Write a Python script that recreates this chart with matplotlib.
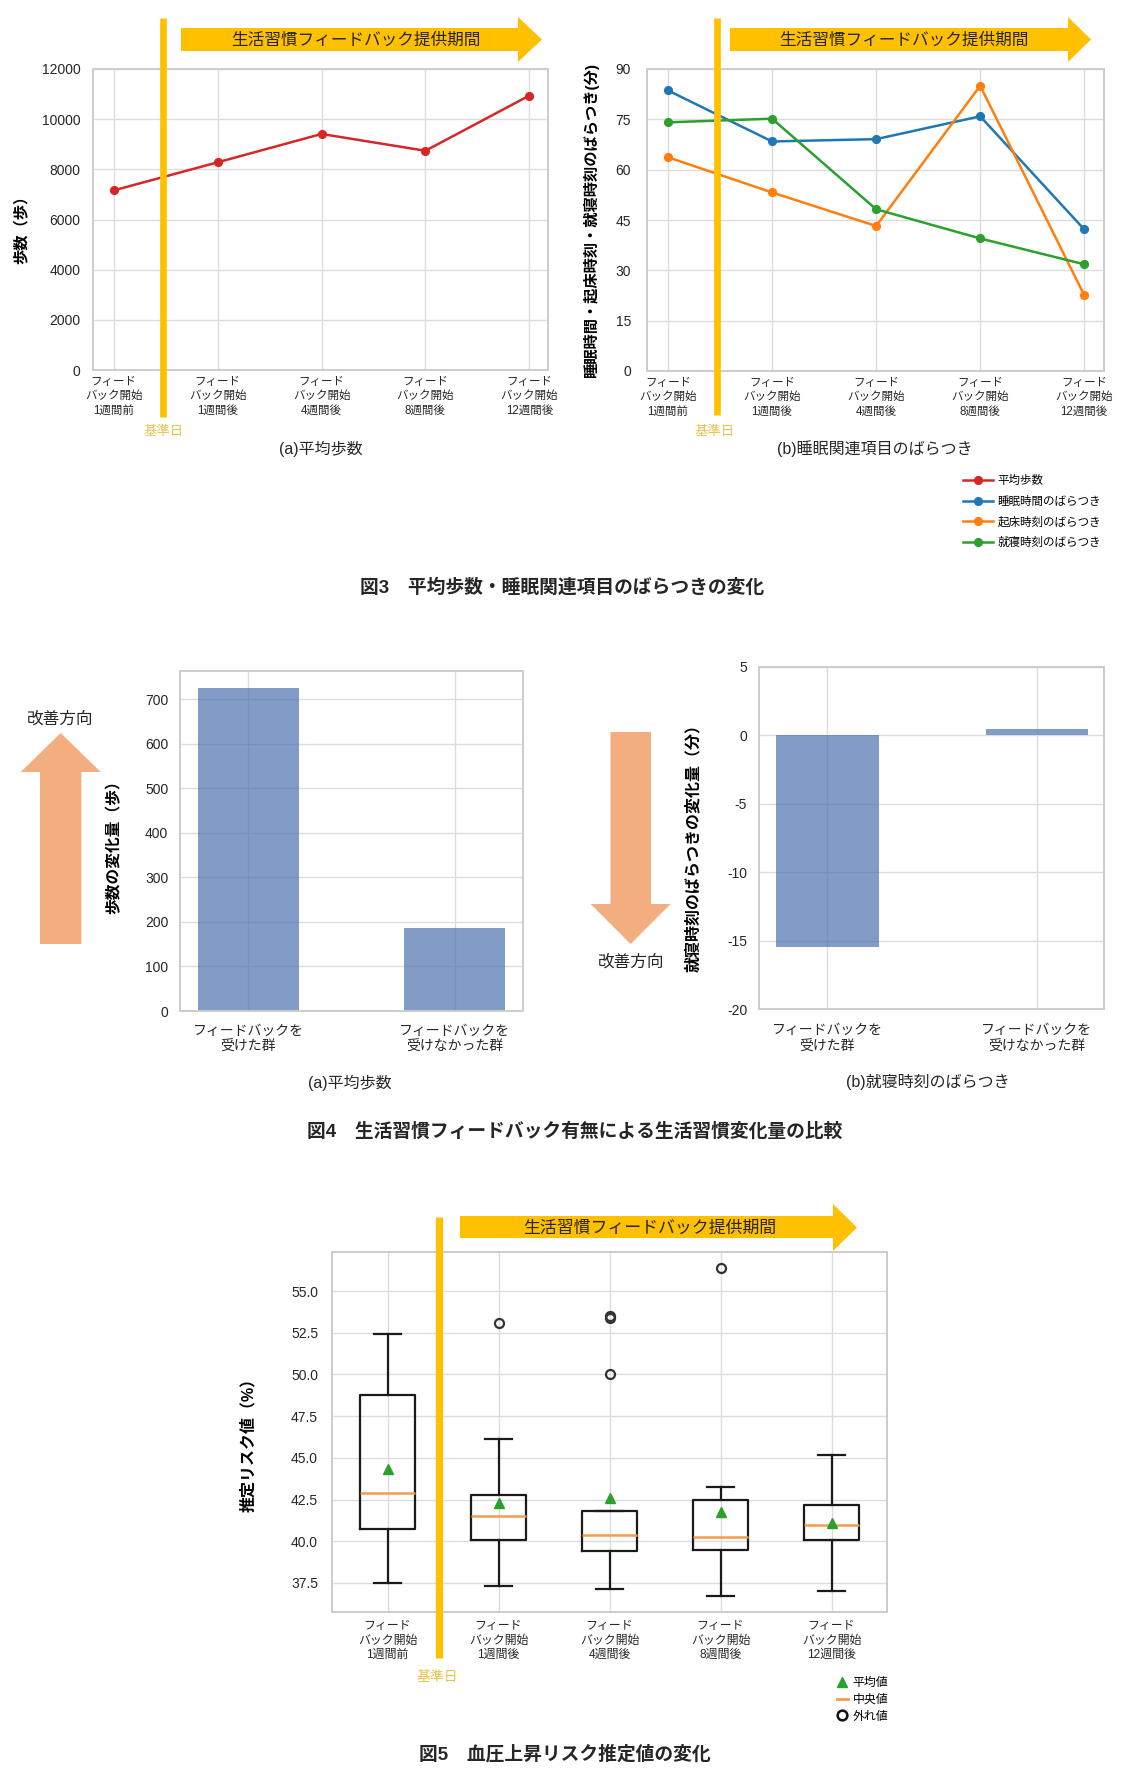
import matplotlib
matplotlib.use('Agg')
import matplotlib.pyplot as plt
import matplotlib.transforms as mtransforms
from matplotlib.patches import Polygon
from matplotlib.lines import Line2D
import numpy as np

plt.rcParams['font.family'] = ['Liberation Sans', 'Noto Sans CJK JP', 'DejaVu Sans']
plt.rcParams['axes.unicode_minus'] = False

# ---------------- data ----------------
timepoints = ['フィード\nバック開始\n1週間前', 'フィード\nバック開始\n1週間後',
              'フィード\nバック開始\n4週間後', 'フィード\nバック開始\n8週間後',
              'フィード\nバック開始\n12週間後']
avg_steps = [7160, 8280, 9410, 8740, 10940]
sleep_dur_var = [83.6, 68.4, 69.1, 75.9, 42.2]
wake_time_var = [63.7, 53.2, 43.2, 85.0, 22.6]
bed_time_var = [74.1, 75.2, 48.2, 39.5, 31.8]
series_labels = ['平均歩数', '睡眠時間のばらつき', '起床時刻のばらつき', '就寝時刻のばらつき']

groups = ['フィードバックを\n受けた群', 'フィードバックを\n受けなかった群']
step_change = [725, 186]
bedtime_var_change = [-15.5, 0.45]

risk_whislo = [37.50, 37.32, 37.12, 36.72, 37.01]
risk_q1 = [40.72, 40.10, 39.43, 39.50, 40.10]
risk_med = [42.87, 41.50, 40.39, 40.28, 40.99]
risk_q3 = [48.76, 42.79, 41.79, 42.50, 42.16]
risk_whishi = [52.42, 46.16, 41.79, 43.27, 45.16]
risk_mean = [44.32, 42.27, 42.59, 41.76, 41.10]
risk_fliers = [[], [53.11], [50.05, 53.38, 53.49], [56.38], []]

period_text = '生活習慣フィードバック提供期間'
base_text = '基準日'

# ---------------- figure ----------------
W, H, DPI = 1125, 1784, 100
fig = plt.figure(figsize=(W / DPI, H / DPI), dpi=DPI)
fig.patch.set_facecolor('white')
px = mtransforms.Affine2D().scale(1 / DPI, -1 / DPI).translate(0, H / DPI) + fig.dpi_scale_trans

GOLD = '#ffc000'
GOLD_TXT = '#e8c24e'
ORANGE_ARROW = '#f2ae7e'
TXT = '#262626'


def add_ax(l, t, r, b):
    return fig.add_axes([l / W, 1 - b / H, (r - l) / W, (b - t) / H])


def style(ax):
    ax.set_facecolor('white')
    for s in ax.spines.values():
        s.set_color('#cccccc')
        s.set_linewidth(1.4)
    ax.grid(True, color='#dcdcdc', linewidth=1.0)
    ax.set_axisbelow(True)
    ax.tick_params(length=0, colors=TXT, labelcolor=TXT)


def harrow(x0, xb, xt, yb0, yb1, yh0, yh1, color):
    yc = (yh0 + yh1) / 2
    pts = [(x0, yb0), (xb, yb0), (xb, yh0), (xt, yc), (xb, yh1), (xb, yb1), (x0, yb1)]
    fig.add_artist(Polygon(pts, closed=True, transform=px, facecolor=color, edgecolor='none'))


def varrow(xb0, xb1, xh0, xh1, ystart, ybase, ytip, color):
    xc = (xh0 + xh1) / 2
    pts = [(xb0, ystart), (xb0, ybase), (xh0, ybase), (xc, ytip), (xh1, ybase), (xb1, ybase), (xb1, ystart)]
    fig.add_artist(Polygon(pts, closed=True, transform=px, facecolor=color, edgecolor='none'))


def ftext(x, y, s, **kw):
    kw.setdefault('ha', 'center')
    kw.setdefault('va', 'center')
    kw.setdefault('color', TXT)
    fig.text(x, y, s, transform=px, **kw)


def vline(ax, xdata, ymin, ymax, lw):
    ax.plot([xdata, xdata], [ymin, ymax], color=GOLD, lw=lw, solid_capstyle='butt',
            transform=ax.get_xaxis_transform(), clip_on=False, zorder=6)


x5 = np.arange(len(timepoints))

# ---------------- Fig.3 (a) ----------------
ax1 = add_ax(93, 69, 548, 370)
style(ax1)
l0, = ax1.plot(x5, avg_steps, '-o', color='#d62728', lw=1.8, ms=5.6, label=series_labels[0])
ax1.set_xlim(-0.2, 4.18)
ax1.set_ylim(0, 12000)
ax1.set_yticks(np.arange(0, 12001, 2000))
ax1.set_xticks(x5)
ax1.set_xticklabels(timepoints, fontsize=8.3, linespacing=1.3)
ax1.tick_params(axis='y', labelsize=10, pad=9)
ax1.tick_params(axis='x', pad=4)
ax1.set_ylabel('歩数（歩）', fontsize=11, fontweight='bold', va='center')
ax1.yaxis.set_label_coords(-0.158, 0.48)
ax1.set_xlabel('(a)平均歩数', fontsize=11.5, va='center', color=TXT)
ax1.xaxis.set_label_coords(0.5, -0.262)
vline(ax1, 0.47, -0.156, 1.169, 4.8)
ftext(164, 432, base_text, fontsize=9.6, color=GOLD_TXT)
harrow(181, 518, 542, 28, 51, 17, 62, GOLD)
ftext(356, 40, period_text, fontsize=12)

# ---------------- Fig.3 (b) ----------------
ax2 = add_ax(646.5, 69, 1104, 371)
style(ax2)
l1, = ax2.plot(x5, sleep_dur_var, '-o', color='#1f77b4', lw=1.8, ms=5.6, label=series_labels[1])
l2, = ax2.plot(x5, wake_time_var, '-o', color='#ff7f0e', lw=1.8, ms=5.6, label=series_labels[2])
l3, = ax2.plot(x5, bed_time_var, '-o', color='#2ca02c', lw=1.8, ms=5.6, label=series_labels[3])
ax2.set_xlim(-0.207, 4.19)
ax2.set_ylim(0, 90)
ax2.set_yticks(np.arange(0, 91, 15))
ax2.set_xticks(x5)
ax2.set_xticklabels(timepoints, fontsize=8.3, linespacing=1.3)
ax2.tick_params(axis='y', labelsize=10, pad=11)
ax2.tick_params(axis='x', pad=4)
ax2.set_ylabel('睡眠時間・起床時刻・就寝時刻のばらつき(分)', fontsize=11, fontweight='bold', va='center')
ax2.yaxis.set_label_coords(-0.121, 0.497)
ax2.set_xlabel('(b)睡眠関連項目のばらつき', fontsize=11.5, va='center', color=TXT)
ax2.xaxis.set_label_coords(0.4995, -0.258)
vline(ax2, 0.47, -0.146, 1.169, 4.8)
ftext(715, 432, base_text, fontsize=9.6, color=GOLD_TXT)
harrow(730, 1068, 1091, 28, 51, 17, 62, GOLD)
ftext(904, 40, period_text, fontsize=12)

fig.legend(handles=[l0, l1, l2, l3], loc='upper left', bbox_to_anchor=(963 / W, 1 - 475 / H),
           frameon=False, fontsize=8.3, handlelength=2.6, handletextpad=0.4,
           labelspacing=0.75, borderpad=0, borderaxespad=0)

ftext(562, 588, '図3\u3000平均歩数・睡眠関連項目のばらつきの変化', fontsize=13.5, fontweight='bold')

# ---------------- Fig.4 (a) ----------------
xg = np.arange(len(groups))
ax3 = add_ax(180, 671, 523, 1011)
style(ax3)
ax3.bar(xg, step_change, width=0.49, color='#4c72b0', alpha=0.7)
ax3.set_xlim(-0.33, 1.33)
ax3.set_ylim(0, 763)
ax3.set_yticks(np.arange(0, 701, 100))
ax3.set_xticks(xg)
ax3.set_xticklabels(groups, fontsize=10, linespacing=1.25)
ax3.tick_params(axis='y', labelsize=10, pad=8.5)
ax3.tick_params(axis='x', pad=9)
ax3.set_ylabel('歩数の変化量（歩）', fontsize=11.3, fontweight='bold', va='center')
ax3.yaxis.set_label_coords(-0.192, 0.494)
ax3.set_xlabel('(a)平均歩数', fontsize=11.5, va='center', color=TXT)
ax3.xaxis.set_label_coords(0.496, -0.212)
varrow(40, 81.4, 20.7, 100.7, 944, 772, 733, ORANGE_ARROW)
ftext(60, 719, '改善方向', fontsize=12)

# ---------------- Fig.4 (b) ----------------
ax4 = add_ax(759, 667, 1104, 1009)
style(ax4)
ax4.bar(xg, bedtime_var_change, width=0.49, color='#4c72b0', alpha=0.7)
ax4.set_xlim(-0.327, 1.32)
ax4.set_ylim(-20, 5)
ax4.set_yticks(np.arange(-20, 6, 5))
ax4.set_xticks(xg)
ax4.set_xticklabels(groups, fontsize=10, linespacing=1.25)
ax4.tick_params(axis='y', labelsize=10, pad=8.5)
ax4.tick_params(axis='x', pad=10)
ax4.set_ylabel('就寝時刻のばらつきの変化量（分）', fontsize=11.5, fontweight='bold', va='center')
ax4.yaxis.set_label_coords(-0.191, 0.482)
ax4.set_xlabel('(b)就寝時刻のばらつき', fontsize=11.5, va='center', color=TXT)
ax4.xaxis.set_label_coords(0.489, -0.213)
varrow(610.5, 651, 590.6, 670.6, 732, 904, 944, ORANGE_ARROW)
ftext(631, 962, '改善方向', fontsize=12)

ftext(575, 1132, '図4\u3000生活習慣フィードバック有無による生活習慣変化量の比較', fontsize=13.5, fontweight='bold')

# ---------------- Fig.5 ----------------
ax5 = add_ax(332, 1252, 887, 1612)
style(ax5)
stats = []
for i, tp in enumerate(timepoints):
    stats.append(dict(whislo=risk_whislo[i], q1=risk_q1[i], med=risk_med[i], q3=risk_q3[i],
                      whishi=risk_whishi[i], mean=risk_mean[i], fliers=risk_fliers[i], label=tp))
pos = np.arange(1, len(stats) + 1)
ax5.bxp(stats, positions=pos, widths=0.5, showmeans=True,
        boxprops=dict(color='#1a1a1a', lw=1.6),
        whiskerprops=dict(color='#1a1a1a', lw=1.6),
        capprops=dict(color='#1a1a1a', lw=1.6),
        medianprops=dict(color='#f39c4e', lw=1.8),
        meanprops=dict(marker='^', markerfacecolor='#2ca02c', markeredgecolor='#2ca02c', markersize=7.5),
        flierprops=dict(marker='o', markerfacecolor='none', markeredgecolor='#333333',
                        markersize=6.5, markeredgewidth=1.6))
ax5.set_xlim(0.5, 5.5)
ax5.set_ylim(35.76, 57.34)
ax5.set_yticks(np.arange(37.5, 55.01, 2.5))
ax5.set_yticklabels(['%.1f' % v for v in np.arange(37.5, 55.01, 2.5)])
ax5.set_xticks(pos)
ax5.set_xticklabels(timepoints, fontsize=8.6, linespacing=1.25)
ax5.tick_params(axis='y', labelsize=10, pad=10)
ax5.tick_params(axis='x', pad=6)
ax5.set_ylabel('推定リスク値（%）', fontsize=11.5, fontweight='bold', va='center')
ax5.yaxis.set_label_coords(-0.151, 0.475)
vline(ax5, 1.46, -0.128, 1.097, 5.2)
ftext(437, 1677, base_text, fontsize=10, color=GOLD_TXT)
harrow(460, 833, 857, 1216, 1238, 1204, 1251, GOLD)
ftext(650, 1228, period_text, fontsize=12.2)

h_mean = Line2D([], [], marker='^', color='#2ca02c', ls='none', ms=7)
h_med = Line2D([], [], color='#f39c4e', lw=2)
h_fl = Line2D([], [], marker='o', mfc='none', mec='#111111', ls='none', ms=7, mew=1.8)
fig.legend(handles=[h_mean, h_med, h_fl], labels=['平均値', '中央値', '外れ値'],
           loc='upper left', bbox_to_anchor=(837 / W, 1 - 1677 / H), frameon=False,
           fontsize=8.6, handlelength=0.9, handletextpad=0.4, labelspacing=0.4,
           borderpad=0, borderaxespad=0)

ftext(565, 1754, '図5\u3000血圧上昇リスク推定値の変化', fontsize=13.5, fontweight='bold')

fig.savefig('out.png', dpi=DPI, facecolor='white')
